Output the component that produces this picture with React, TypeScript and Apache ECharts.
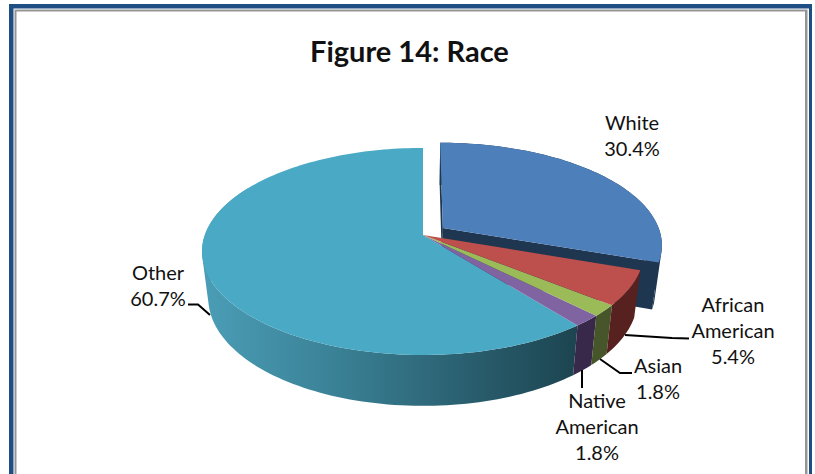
import React, { useEffect, useRef } from "react";
import * as echarts from "echarts";

const categories = ["White", "African American", "Asian", "Native American", "Other"];
const values = [30.4, 5.4, 1.8, 1.8, 60.7];
const percentLabels = ["30.4%", "5.4%", "1.8%", "1.8%", "60.7%"];
const title = "Figure 14: Race";

const topColors = ["#4d7fba", "#bd504c", "#9bbb59", "#8064a2", "#4aa9c4"];
const wallColors = ["#1f3650", "#57211f", "#46562a", "#38284a", ""];
const FONT = "Lato, 'Open Sans', sans-serif";

const CX = 423, CY = 235, A = 218.2, B = 100.9, K = 0.159;
const BOTTOM = { cy: 281, a: 212, b: 105, k: 0.159 };
const TOP = { cy: CY, a: A, b: B, k: K };
const EXPLODE = [[0.092, 0.07], [0, 0], [0, 0], [0, 0], [0, 0]];
const DRAW_ORDER = [0, 4, 3, 2, 1];

const LABEL_POS = [
  [632, 135], [733, 330], [658, 378], [597, 426], [158, 285],
];
const LEADERS = [
  null,
  [[689, 338.5], [672, 338], [625, 335]],
  [[632, 373], [620, 373], [600, 359]],
  [[582, 370], [582, 388]],
  [[188, 304.5], [198, 304.5], [210, 315]],
];

type Ring = { cy: number; a: number; b: number; k: number };
const project = (X: number, Z: number, r: Ring) => {
  const d = 1 + r.k * Z;
  return [CX + (r.a * X) / d, r.cy - (r.b * Z) / d];
};
const onRim = (deg: number, ex: number[], r: Ring) => {
  const t = (deg * Math.PI) / 180;
  return project(Math.sin(t) + ex[0], Math.cos(t) + ex[1], r);
};
const pathOf = (pts: number[][]) =>
  "M" + pts.map((p) => p[0].toFixed(2) + " " + p[1].toFixed(2)).join("L") + "Z";

function sliceElements(i: number) {
  const total = values.reduce((a, b) => a + b, 0);
  const before = values.slice(0, i).reduce((a, b) => a + b, 0);
  const a0 = (before / total) * 360;
  const a1 = ((before + values[i]) / total) * 360;
  const ex = EXPLODE[i];
  const steps = Math.max(4, Math.ceil((a1 - a0) / 1.5));
  const angs: number[] = [];
  for (let s = 0; s <= steps; s++) angs.push(a0 + ((a1 - a0) * s) / steps);

  const wallFill =
    i === 4
      ? new echarts.graphic.LinearGradient(
          205, 0, 578, 0,
          [
            { offset: 0, color: "#4a9db6" },
            { offset: 0.35, color: "#3a8196" },
            { offset: 0.7, color: "#2a5f6f" },
            { offset: 1, color: "#1c4450" },
          ],
          true as any
        )
      : wallColors[i];

  let wall = "";
  for (let s = 0; s < steps; s++) {
    if (angs[s] > 300) break;
    const q = [
      onRim(angs[s], ex, TOP),
      onRim(angs[s + 1], ex, TOP),
      onRim(angs[s + 1], ex, BOTTOM),
      onRim(angs[s], ex, BOTTOM),
    ];
    const area =
      (q[1][0] - q[0][0]) * (q[2][1] - q[0][1]) - (q[1][1] - q[0][1]) * (q[2][0] - q[0][0]);
    wall += pathOf(area < 0 ? q.reverse() : q);
  }

  const children: any[] = [];
  if (i === 0) {
    const apexTop = project(ex[0], ex[1], TOP);
    const apexBot = project(ex[0], ex[1], BOTTOM);
    children.push({
      type: "path",
      shape: { pathData: pathOf([apexTop, onRim(a1, ex, TOP), onRim(a1, ex, BOTTOM), apexBot]) },
      style: { fill: wallColors[0] },
    });
    children.push({
      type: "path",
      shape: { pathData: pathOf([apexTop, onRim(a0, ex, TOP), onRim(a0, ex, BOTTOM), apexBot]) },
      style: { fill: wallColors[0] },
    });
  }
  children.push({ type: "path", shape: { pathData: wall }, style: { fill: wallFill } });
  const topPts = [project(ex[0], ex[1], TOP), ...angs.map((a) => onRim(a, ex, TOP))];
  children.push({
    type: "path",
    shape: { pathData: pathOf(topPts) },
    style: { fill: topColors[i] },
  });
  return children;
}

function labelElements(i: number) {
  const name = categories[i].replace(" ", "\n");
  const leader = LEADERS[i];
  const out: any[] = [
    {
      type: "text",
      x: LABEL_POS[i][0],
      y: LABEL_POS[i][1],
      style: {
        text: name + "\n" + percentLabels[i],
        font: "20px " + FONT,
        fill: "#111111",
        align: "center",
        verticalAlign: "middle",
        lineHeight: 26,
      },
    },
  ];
  if (leader) {
    out.push({
      type: "polyline",
      shape: { points: leader },
      style: { stroke: "#000000", lineWidth: 2, fill: "none" },
    });
  }
  return out;
}

export default function App() {
  const ref = useRef<HTMLDivElement>(null);
  useEffect(() => {
    document.body.style.margin = "0";
    const chart = echarts.init(ref.current!, null, { renderer: "svg" });
    const frame = [
      { x: 9, y: 4, w: 803, h: 470, c: "#1f4e85" },
      { x: 13.5, y: 8.5, w: 795.5, h: 466, c: "#ffffff" },
      { x: 14.5, y: 9.5, w: 793, h: 465, c: "#959595" },
      { x: 16.5, y: 11.5, w: 788.5, h: 463, c: "#ffffff" },
    ];
    chart.setOption({
      animation: false,
      backgroundColor: "#ffffff",
      title: {
        text: title,
        left: 305,
        top: 31,
        textStyle: { fontFamily: FONT, fontSize: 29, fontWeight: "bold", color: "#111111" },
      },
      graphic: {
        elements: frame.map((f) => ({
          type: "rect",
          z: -10,
          silent: true,
          shape: { x: f.x, y: f.y, width: f.w, height: f.h },
          style: { fill: f.c },
        })),
      },
      series: [
        {
          type: "custom",
          coordinateSystem: "none",
          silent: true,
          data: DRAW_ORDER.map((i) => ({ name: categories[i], value: values[i] })),
          renderItem: (params: any) => {
            const i = DRAW_ORDER[params.dataIndex];
            return { type: "group", children: sliceElements(i) };
          },
          z: 2,
        },
        {
          type: "custom",
          coordinateSystem: "none",
          silent: true,
          data: categories.map((name, i) => ({ name, value: values[i] })),
          renderItem: (params: any) => ({
            type: "group",
            children: labelElements(params.dataIndex),
          }),
          z: 3,
        },
      ],
    });
    return () => chart.dispose();
  }, []);
  return (
    <div
      ref={ref}
      style={{ position: "absolute", left: 0, top: 0, width: 815, height: 474, overflow: "hidden" }}
    />
  );
}
